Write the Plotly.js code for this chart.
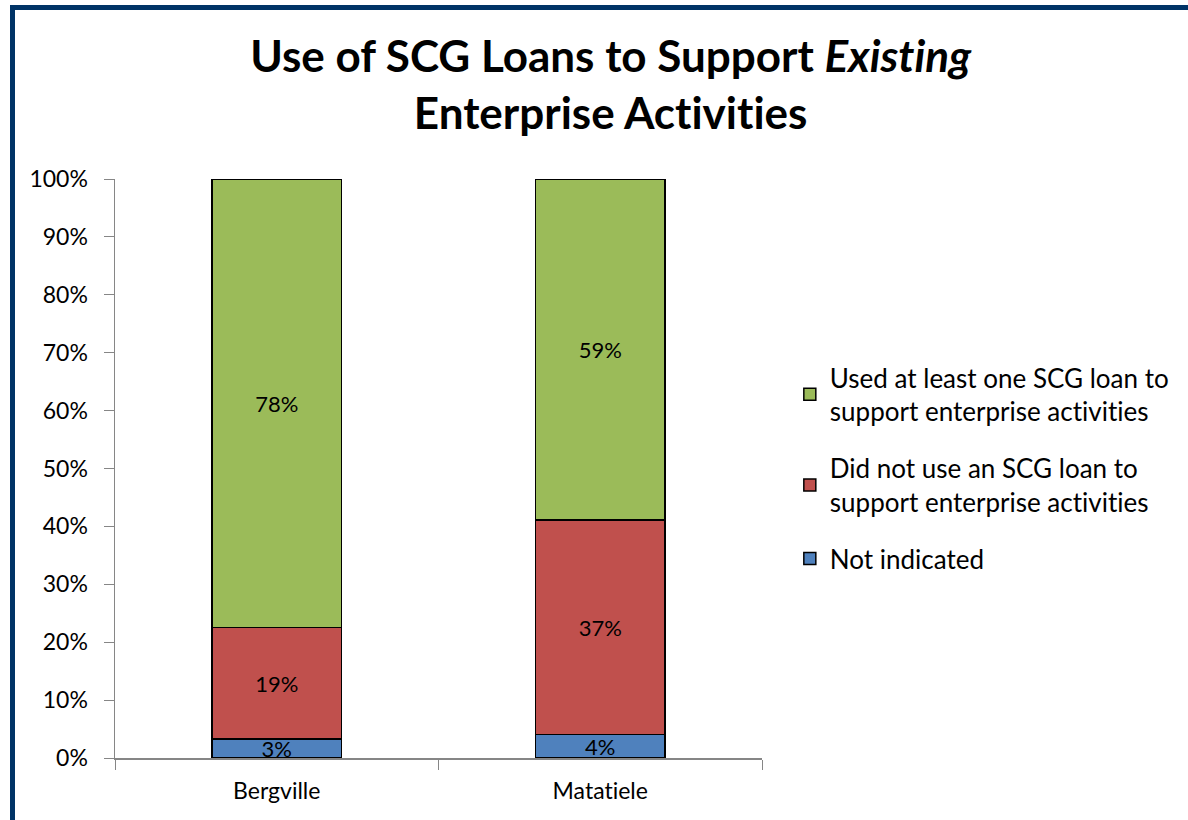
<!DOCTYPE html>
<html>
<head>
<meta charset="utf-8">
<script src="https://cdn.plot.ly/plotly-3.0.1.min.js"></script>
<style>
  html, body { margin: 0; padding: 0; width: 1188px; height: 820px; overflow: hidden; background: #ffffff; }
  #frame { position: absolute; left: 10px; top: 5px; width: 1300px; height: 1000px; border: 5px solid #003366; box-sizing: border-box; }
  #chart { position: absolute; left: 0; top: 0; width: 1188px; height: 820px; }
  #chart text { font-variant-ligatures: none; font-feature-settings: "liga" 0, "dlig" 0; }
</style>
</head>
<body>
<div id="frame"></div>
<div id="chart"></div>
<script>
const categories = ["Bergville", "Matatiele"];
const notIndicated = [3.3, 4.1];
const didNotUse = [19.2, 37.0];
const usedLoan = [77.5, 58.9];
const notIndicatedLabels = ["3%", "4%"];
const didNotUseLabels = ["19%", "37%"];
const usedLoanLabels = ["78%", "59%"];
const tickVals = [0, 10, 20, 30, 40, 50, 60, 70, 80, 90, 100];
const tickText = ["0%", "10%", "20%", "30%", "40%", "50%", "60%", "70%", "80%", "90%", "100%"];

const FONT = "Lato, 'Open Sans', sans-serif";
const lineStyle = { color: "#000000", width: 1.5 };
function bar(name, y, labels, color, group, rank) {
  return {
    type: "bar", name: name, x: categories, y: y,
    text: labels, texttemplate: "%{text}", textposition: "inside",
    insidetextanchor: "middle", constraintext: "none",
    textfont: { family: FONT, size: 22, color: "#000000" },
    marker: { color: color, line: lineStyle },
    legendgroup: group, legendrank: rank, hoverinfo: "skip"
  };
}
const data = [
  bar("Not indicated", notIndicated, notIndicatedLabels, "#4f81bd", "a", 3),
  bar("Did not use an SCG loan to<br>support enterprise activities", didNotUse, didNotUseLabels, "#c0504d", "b", 2),
  bar("Used at least one SCG loan to<br>support enterprise activities", usedLoan, usedLoanLabels, "#9bbb59", "c", 1)
];
const layout = {
  width: 1188, height: 820,
  paper_bgcolor: "rgba(0,0,0,0)", plot_bgcolor: "rgba(0,0,0,0)",
  margin: { l: 115, r: 426, t: 179, b: 62 },
  barmode: "stack", bargap: 0.6,
  font: { family: FONT, color: "#000000" },
  title: {
    text: "Use of SCG Loans to Support <i>Existing</i><br>Enterprise Activities",
    font: { family: FONT, size: 44, weight: "bold", color: "#000000" },
    x: 0.514, xanchor: "center", y: 0.912, yanchor: "top"
  },
  xaxis: {
    type: "category", tickson: "boundaries", ticks: "outside", ticklen: 10, tickcolor: "#868686",
    showline: true, linecolor: "#868686", linewidth: 1.5, showgrid: false,
    tickfont: { family: FONT, size: 23, color: "#000000" }, ticklabelstandoff: 12,
    fixedrange: true
  },
  yaxis: {
    range: [0, 100], tickvals: tickVals, ticktext: tickText,
    ticks: "outside", ticklen: 10, tickcolor: "#868686",
    showline: true, linecolor: "#868686", linewidth: 1.5, showgrid: false, zeroline: false,
    tickfont: { family: FONT, size: 23, color: "#000000" }, ticklabelstandoff: 11,
    fixedrange: true
  },
  legend: {
    x: 1.043, xanchor: "left", y: 0.5, yanchor: "middle",
    traceorder: "grouped", tracegroupgap: 20,
    font: { family: FONT, size: 26, color: "#000000" },
    bgcolor: "rgba(0,0,0,0)", itemwidth: 30
  },
  showlegend: true
};
Plotly.newPlot("chart", data, layout, { displayModeBar: false, staticPlot: true });
</script>
</body>
</html>
